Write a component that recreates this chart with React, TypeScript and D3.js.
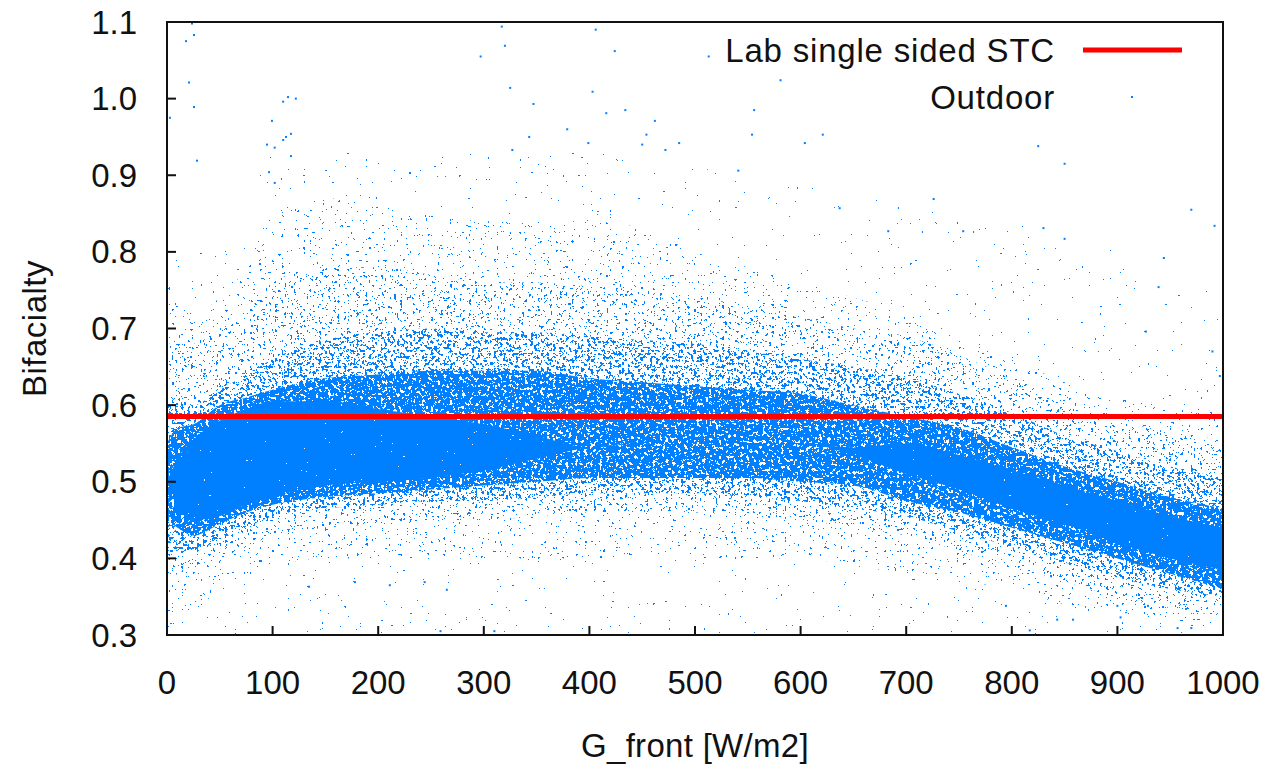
import React from 'react';
import * as d3 from 'd3';

const gGrid = [0, 10, 25, 50, 75, 100, 150, 200, 250, 300, 350, 400, 450, 500, 550, 600, 650, 700, 750, 800, 850, 900, 950, 1000];

// near solid core of the cloud
const solidLo = [0.5, 0.47, 0.45, 0.455, 0.47, 0.48, 0.495, 0.5, 0.505, 0.515, 0.53, 0.545, 0.55, 0.55, 0.55, 0.55, 0.535, 0.51, 0.49, 0.465, 0.445, 0.42, 0.4, 0.385];
const solidHi = [0.5, 0.53, 0.555, 0.58, 0.595, 0.605, 0.605, 0.595, 0.585, 0.575, 0.56, 0.545, 0.55, 0.55, 0.55, 0.55, 0.545, 0.55, 0.535, 0.515, 0.495, 0.475, 0.455, 0.44];

// dense band
const denseLo = [0.45, 0.44, 0.43, 0.445, 0.46, 0.47, 0.48, 0.485, 0.49, 0.495, 0.5, 0.505, 0.505, 0.505, 0.505, 0.5, 0.495, 0.475, 0.46, 0.44, 0.42, 0.4, 0.38, 0.36];
const denseHi = [0.55, 0.57, 0.575, 0.6, 0.61, 0.62, 0.635, 0.64, 0.645, 0.645, 0.645, 0.635, 0.63, 0.625, 0.62, 0.615, 0.6, 0.585, 0.57, 0.545, 0.52, 0.5, 0.48, 0.465];

// medium density halo
const mediumLo = [0.4, 0.41, 0.41, 0.425, 0.44, 0.455, 0.465, 0.47, 0.475, 0.475, 0.48, 0.485, 0.485, 0.485, 0.48, 0.475, 0.465, 0.455, 0.435, 0.415, 0.395, 0.375, 0.36, 0.35];
const mediumHi = [0.6, 0.61, 0.6, 0.62, 0.64, 0.66, 0.685, 0.695, 0.7, 0.695, 0.695, 0.69, 0.685, 0.68, 0.67, 0.66, 0.65, 0.635, 0.615, 0.59, 0.56, 0.54, 0.52, 0.505];

// light halo
const lightLo = [0.37, 0.38, 0.39, 0.4, 0.415, 0.43, 0.44, 0.445, 0.45, 0.45, 0.455, 0.46, 0.46, 0.46, 0.455, 0.45, 0.44, 0.43, 0.41, 0.39, 0.37, 0.35, 0.335, 0.325];
const lightHi = [0.68, 0.68, 0.68, 0.7, 0.72, 0.76, 0.78, 0.78, 0.77, 0.76, 0.76, 0.755, 0.75, 0.74, 0.73, 0.715, 0.7, 0.69, 0.665, 0.635, 0.6, 0.58, 0.565, 0.555];

// sparse halo
const sparseLo = [0.3, 0.32, 0.33, 0.36, 0.38, 0.39, 0.4, 0.4, 0.4, 0.4, 0.4, 0.4, 0.4, 0.4, 0.4, 0.4, 0.39, 0.38, 0.37, 0.36, 0.34, 0.33, 0.32, 0.31];
const sparseHi = [0.76, 0.74, 0.72, 0.74, 0.78, 0.85, 0.87, 0.86, 0.85, 0.84, 0.84, 0.84, 0.83, 0.8, 0.78, 0.76, 0.74, 0.72, 0.69, 0.66, 0.63, 0.61, 0.6, 0.59];

// thin scatter over most of the plot
const traceLo = [0.3, 0.3, 0.3, 0.3, 0.3, 0.3, 0.3, 0.3, 0.3, 0.3, 0.3, 0.3, 0.3, 0.3, 0.3, 0.3, 0.3, 0.3, 0.3, 0.3, 0.3, 0.3, 0.3, 0.3];
const traceHi = [0.8, 0.8, 0.8, 0.8, 0.85, 0.93, 0.93, 0.93, 0.93, 0.93, 0.93, 0.93, 0.92, 0.91, 0.9, 0.89, 0.88, 0.86, 0.85, 0.84, 0.82, 0.8, 0.77, 0.74];

// single points far from the cloud [G_front, bifaciality]
const outliers: [number, number][] = [
  [23.7, 1.098], [25.6, 1.083], [18, 1.075], [20.8, 1.021], [25.6, 0.989], [2.8, 0.975], [28.4, 0.919],
  [110, 0.996], [114.6, 1.002], [122, 1.0], [99.4, 0.971], [117.4, 0.954], [110, 0.946], [112.7, 0.95],
  [94.7, 0.94], [102, 0.936], [117.4, 0.925], [96.6, 0.904], [102, 0.89],
  [317, 1.094], [406, 1.09], [297, 1.055], [320, 1.069], [424, 1.062], [513, 1.055], [325, 1.014],
  [403, 1.009], [347, 0.993], [416, 0.981], [434, 0.985], [462, 0.971], [581, 1.024], [556, 0.985],
  [379, 0.96], [343, 0.95], [554, 0.953], [604, 0.942], [621, 0.953], [454, 0.953], [485, 0.942],
  [327, 0.933], [399, 0.942], [450, 0.94], [472, 0.933], [541, 0.906],
  [825, 0.938], [850, 0.915], [726, 0.869], [683, 0.827], [754, 0.827], [830, 0.831], [850, 0.817],
  [970, 0.855], [992, 0.834], [637, 0.857], [944, 0.792], [939, 0.754], [997, 0.638], [927, 0.696], [990, 0.67],
  [134.5, 0.363], [178, 0.369], [211, 0.365], [244, 0.369], [265, 0.359], [259, 0.305], [310, 0.305],
  [794.5, 0.338], [817, 0.306], [843, 0.32], [858, 0.32], [900, 0.338], [903, 0.323], [929, 0.338],
  [957, 0.309], [965, 0.334], [970, 0.309],
];

const labStc = 0.585;
const xTicks = [0, 100, 200, 300, 400, 500, 600, 700, 800, 900, 1000];
const yTicks = [0.3, 0.4, 0.5, 0.6, 0.7, 0.8, 0.9, 1.0, 1.1];

const W = 1274;
const H = 769;
const PL = 167, PR = 1223, PT = 22, PB = 635;
const BLUE = '#0080ff';
const INK = '#111';
const FONT = '"Liberation Sans", Arial, Helvetica, sans-serif';

// t = noise threshold, higher t -> fewer dots
const layers = [
  { id: 'trace', lo: traceLo, hi: traceHi, t: 0.8, seed: 11 },
  { id: 'sparse', lo: sparseLo, hi: sparseHi, t: 0.73, seed: 23 },
  { id: 'light', lo: lightLo, hi: lightHi, t: 0.68, seed: 29 },
  { id: 'medium', lo: mediumLo, hi: mediumHi, t: 0.6, seed: 37 },
  { id: 'dense', lo: denseLo, hi: denseHi, t: 0.42, seed: 41 },
  { id: 'solid', lo: solidLo, hi: solidHi, t: 0.24, seed: 53 },
];

const table = (t: number) => d3.range(50).map(k => (k / 50 >= t ? 1 : 0)).join(' ');

export default function App() {
  const x = d3.scaleLinear().domain([0, 1000]).range([PL, PR]);
  const y = d3.scaleLinear().domain([0.3, 1.1]).range([PB, PT]);

  const band = (lo: number[], hi: number[]) =>
    d3.area<number>()
      .x(g => x(g))
      .y0((_, i) => y(lo[i]))
      .y1((_, i) => y(hi[i]))
      .curve(d3.curveMonotoneX)(gGrid) || '';

  return (
    <svg width={W} height={H} style={{ position: 'absolute', left: 0, top: 0, background: '#fff' }}>
      <defs>
        <clipPath id="plot">
          <rect x={PL} y={PT} width={PR - PL} height={PB - PT} />
        </clipPath>
        {layers.map(l => (
          <filter key={l.id} id={`sp-${l.id}`} filterUnits="userSpaceOnUse" x={PL} y={PT}
            width={PR - PL} height={PB - PT} colorInterpolationFilters="sRGB">
            <feTurbulence type="fractalNoise" baseFrequency={0.32} numOctaves={2} seed={l.seed} result="n" />
            <feColorMatrix in="n" type="matrix" values="0 0 0 0 0  0 0 0 0 0  0 0 0 0 0  1 0 0 0 0" result="a" />
            <feComponentTransfer in="a" result="m">
              <feFuncA type="discrete" tableValues={table(l.t)} />
            </feComponentTransfer>
            <feFlood floodColor={BLUE} result="c" />
            <feComposite in="c" in2="m" operator="in" result="d" />
            <feComposite in="d" in2="SourceAlpha" operator="in" />
          </filter>
        ))}
      </defs>

      <g clipPath="url(#plot)">
        {layers.map(l => (
          <path key={l.id} d={band(l.lo, l.hi)} fill="#000" filter={`url(#sp-${l.id})`} />
        ))}
        {outliers.map(([g, b], i) => (
          <rect key={i} x={x(g) - 1} y={y(b) - 1} width={2} height={2} fill={BLUE} />
        ))}
        <line x1={PL} x2={PR} y1={y(labStc)} y2={y(labStc)} stroke="#ff0000" strokeWidth={5} />
      </g>

      {/* frame */}
      <rect x={PL} y={PT} width={PR - PL} height={PB - PT} fill="none" stroke={INK} strokeWidth={2} />

      {/* ticks */}
      {xTicks.map(t => (
        <g key={`x${t}`}>
          <line x1={x(t)} x2={x(t)} y1={PB} y2={PB - 9} stroke={INK} strokeWidth={2} />
          <text x={x(t)} y={694} textAnchor="middle" fontFamily={FONT} fontSize={33} fill={INK}>{t}</text>
        </g>
      ))}
      {yTicks.map(t => (
        <g key={`y${t}`}>
          <line x1={PL} x2={PL + 9} y1={y(t)} y2={y(t)} stroke={INK} strokeWidth={2} />
          <text x={137} y={y(t)} dy="0.35em" textAnchor="end" fontFamily={FONT} fontSize={33} fill={INK}>{t.toFixed(1)}</text>
        </g>
      ))}

      <text x={(PL + PR) / 2} y={757} textAnchor="middle" fontFamily={FONT} fontSize={33} letterSpacing={0.3} fill={INK}>G_front [W/m2]</text>
      <text transform={`translate(46,${(PT + PB) / 2}) rotate(-90)`} textAnchor="middle" fontFamily={FONT} fontSize={33} letterSpacing={0.5} fill={INK}>Bifacialty</text>

      {/* legend */}
      <text x={1055} y={62} textAnchor="end" fontFamily={FONT} fontSize={33} letterSpacing={0.8} fill={INK}>Lab single sided STC</text>
      <line x1={1083} x2={1182} y1={50} y2={50} stroke="#ff0000" strokeWidth={5} />
      <text x={1055} y={109} textAnchor="end" fontFamily={FONT} fontSize={33} letterSpacing={0.8} fill={INK}>Outdoor</text>
      <rect x={1131} y={96} width={2} height={2} fill={BLUE} />
    </svg>
  );
}
